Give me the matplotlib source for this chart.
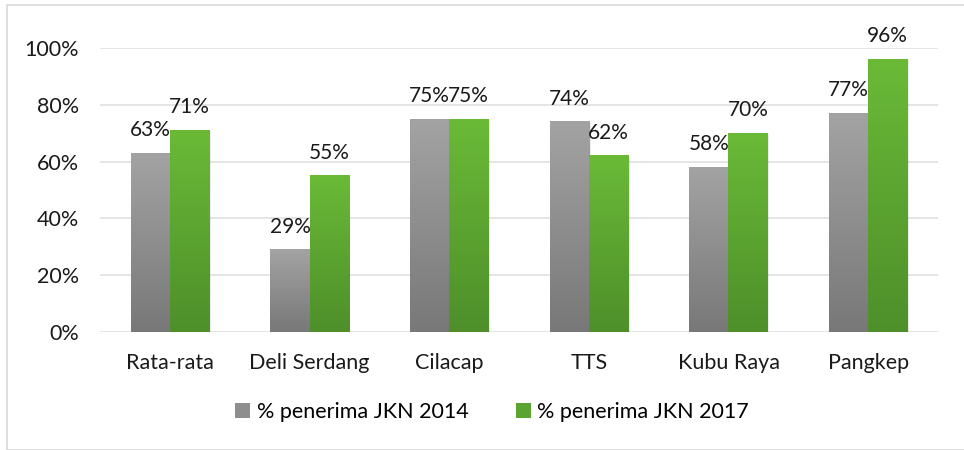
import matplotlib.pyplot as plt
import matplotlib.colors as mcolors
import numpy as np
from matplotlib.patches import Rectangle

categories = ["Rata-rata", "Deli Serdang", "Cilacap", "TTS", "Kubu Raya", "Pangkep"]
jkn_2014 = [0.63, 0.29, 0.75, 0.74, 0.58, 0.77]
jkn_2017 = [0.71, 0.55, 0.75, 0.62, 0.70, 0.96]
series_names = ["% penerima JKN 2014", "% penerima JKN 2017"]
yticks = [0, 0.2, 0.4, 0.6, 0.8, 1.0]

plt.rcParams['font.family'] = ['Lato', 'DejaVu Sans']

# gradient: bottom colour -> top colour
grad_gray = mcolors.LinearSegmentedColormap.from_list("g", ["#787878", "#a3a3a3"])
grad_green = mcolors.LinearSegmentedColormap.from_list("gr", ["#4e8f2a", "#6aba37"])

fig = plt.figure(figsize=(9.64, 4.5), dpi=100)
ax = fig.add_axes([100 / 964, 1 - 332 / 450, 838 / 964, 284 / 450])

# outer border of the chart area
fig.patches.append(Rectangle((7 / 964, 0), 1, 1 - 5 / 450, transform=fig.transFigure,
                             fill=False, edgecolor="#d9d9d9", linewidth=1.2))

x = np.arange(len(categories))
w = 0.28
grad = np.linspace(0, 1, 256).reshape(-1, 1)

for vals, off, cmap in [(jkn_2014, -w / 2, grad_gray), (jkn_2017, w / 2, grad_green)]:
    bars = ax.bar(x + off, vals, w, color="none", zorder=3)
    for b, v in zip(bars, vals):
        x0, y0 = b.get_x(), b.get_y()
        # subtle shadow
        ax.add_patch(Rectangle((x0 + 0.012, y0 - 0.004), b.get_width(), b.get_height(),
                               facecolor="#000000", alpha=0.08, edgecolor="none", zorder=2))
        ax.imshow(grad, extent=(x0, x0 + b.get_width(), y0, y0 + b.get_height()),
                  origin="lower", cmap=cmap, aspect="auto", zorder=3)
        ax.text(x0 + b.get_width() / 2, v + 0.06, f"{round(v * 100):.0f}%",
                ha="center", va="baseline", fontsize=15, color="#1a1a1a", zorder=5, clip_on=False)

ax.set_xlim(-0.5, len(categories) - 0.5)
ax.set_ylim(0, 1.0)
ax.set_yticks(yticks)
ax.set_yticklabels([f"{int(t * 100)}%" for t in yticks])
ax.set_xticks(x)
ax.set_xticklabels(categories)
ax.tick_params(axis="both", length=0, labelsize=15.5, labelcolor="#1a1a1a")
ax.tick_params(axis="y", pad=15)
ax.tick_params(axis="x", pad=15)
ax.grid(axis="y", color="#e0e0e0", linewidth=1.2, zorder=0)
ax.set_axisbelow(True)
for s in ax.spines.values():
    s.set_visible(False)

handles = [Rectangle((0, 0), 1, 1, facecolor="#8e8e8e"),
           Rectangle((0, 0), 1, 1, facecolor="#5ca431")]
fig.legend(handles, series_names, loc="center", bbox_to_anchor=(492 / 964, 1 - 412 / 450),
           ncol=2, frameon=False, fontsize=15.5, handlelength=0.7, handleheight=0.7,
           handletextpad=0.3, columnspacing=2.2)

fig.savefig("out.png", dpi=100)
